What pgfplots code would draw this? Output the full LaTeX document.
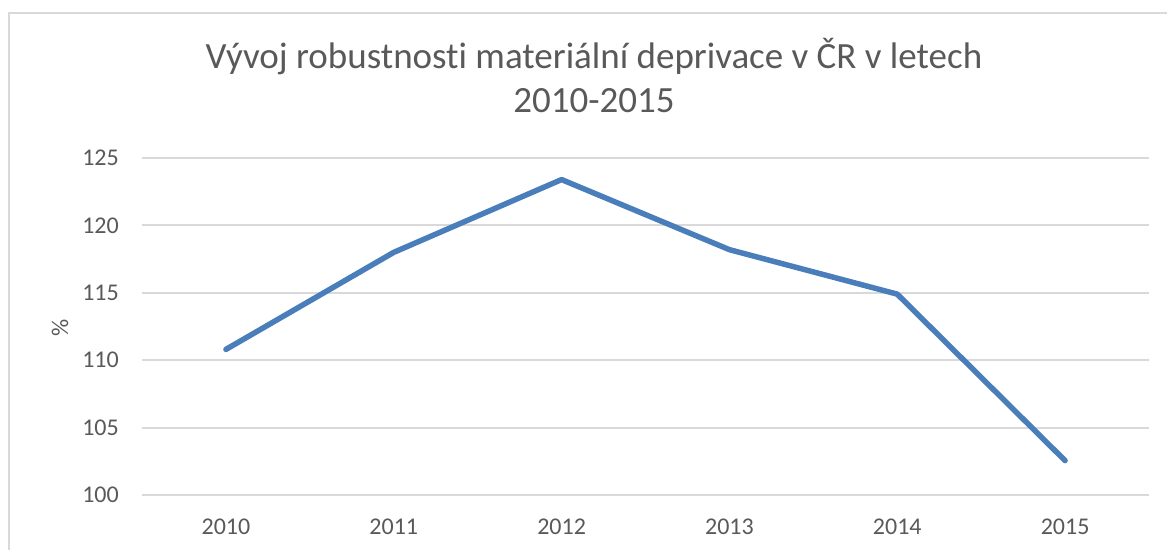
\documentclass[border=0pt]{standalone}
\usepackage{pgfplots}
\pgfplotsset{compat=1.18}
\usepackage{fontspec}
\setmainfont[Ligatures=NoCommon]{Carlito}
\definecolor{txt}{HTML}{595959}
\definecolor{grd}{HTML}{D9D9D9}
\definecolor{ln}{HTML}{4A7EBB}
\begin{document}
\begin{tikzpicture}
\path[use as bounding box] (0pt,0pt) rectangle (1167pt,549pt);
\clip (0pt,0pt) rectangle (1167pt,549pt);
\draw[grd, line width=1.5pt] (9pt,-10pt) -- (9pt,536pt) -- (1200pt,536pt);
\node[txt, font=\fontsize{37}{44}\selectfont, anchor=base, inner sep=0pt] at (594pt,480pt) {Vývoj robustnost\kern0pt i materiální deprivace v ČR v letech};
\node[txt, font=\fontsize{37}{44}\selectfont, anchor=base, inner sep=0pt] at (594pt,436pt) {2010-2015};
\begin{axis}[
  at={(142pt,54pt)}, anchor=south west,
  scale only axis, width=1007pt, height=337pt,
  xmin=-0.5, xmax=5.5, ymin=100, ymax=125,
  ytick={100,105,...,125},
  xtick={0,1,2,3,4,5},
  xticklabels={2010,2011,2012,2013,2014,2015},
  ymajorgrids,
  major grid style={grd, line width=1.8pt},
  axis line style={draw=none},
  tick style={draw=none},
  /pgf/number format/assume math mode=true,
  ticklabel style={txt, font=\fontsize{24}{28}\selectfont},
  yticklabel style={inner sep=0pt, anchor=east, xshift=-23pt},
  xticklabel style={inner sep=0pt, anchor=north, yshift=-24pt},
  ylabel={\%},
  ylabel style={txt, font=\fontsize{24}{28}\selectfont, at={(axis description cs:-0.0814,0.4955)}, anchor=center, inner sep=0pt},
  clip=false,
]
\addplot[ln, line width=5.5pt, line join=round, line cap=round] coordinates {
  (0,110.8) (1,118.0) (2,123.4) (3,118.2) (4,114.9) (5,102.55)
};
\end{axis}
\end{tikzpicture}
\end{document}
